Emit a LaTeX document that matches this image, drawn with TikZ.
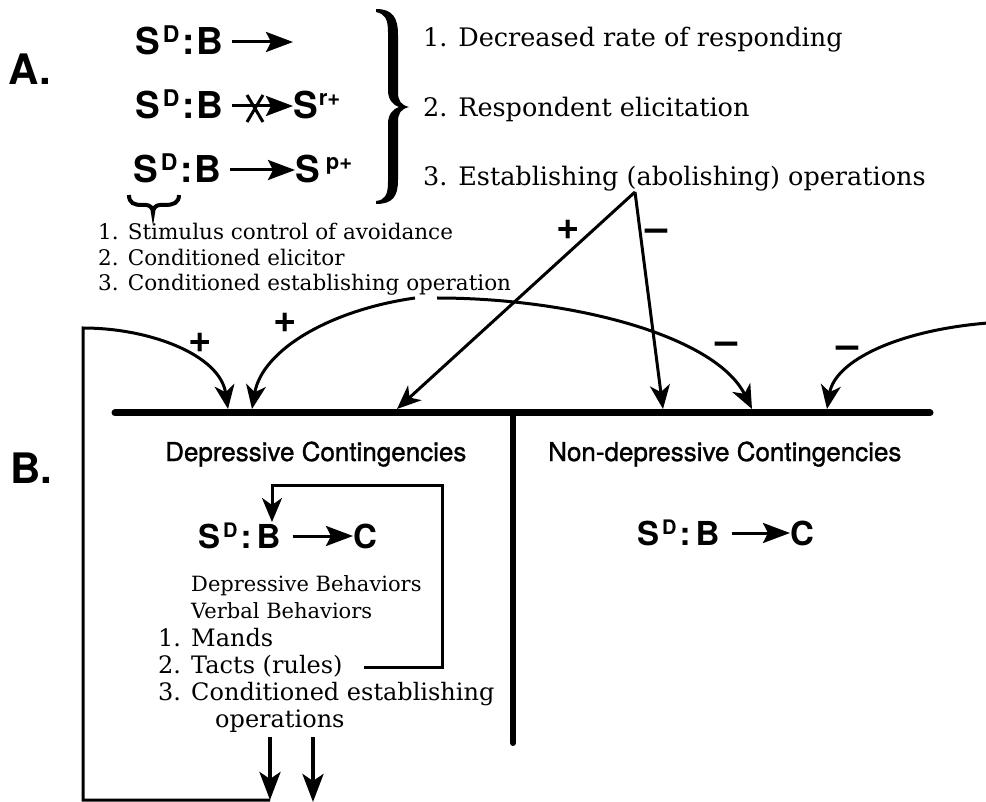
\documentclass[tikz,border=0pt]{standalone}
\usepackage{fontspec}
\setmainfont{DejaVu Serif}
\newfontfamily\hel{TeX Gyre Heros}
\newfontfamily\helsemi[FakeBold=1.2]{TeX Gyre Heros}
\usetikzlibrary{arrows.meta,calc}
\begin{document}
\begin{tikzpicture}[x=1pt,y=-1pt,
  big/.style={font=\hel\bfseries\fontsize{37}{37}\selectfont, inner sep=0pt, anchor=base west},
  mid/.style={font=\hel\bfseries\fontsize{33}{33}\selectfont, inner sep=0pt, anchor=base west},
  head/.style={font=\helsemi\fontsize{26}{26}\selectfont, inner sep=0pt, anchor=base west},
  letter/.style={font=\hel\bfseries\fontsize{42}{42}\selectfont, inner sep=0pt, anchor=base west},
  serA/.style={font=\fontsize{25.5}{25.5}\selectfont, inner sep=0pt, anchor=base west},
  serB/.style={font=\fontsize{21.5}{21.5}\selectfont, inner sep=0pt, anchor=base west},
  serC/.style={font=\fontsize{24}{24}\selectfont, inner sep=0pt, anchor=base west},
  serD/.style={font=\fontsize{21}{21}\selectfont, inner sep=0pt, anchor=base west},
  sign/.style={font=\hel\bfseries\fontsize{40}{40}\selectfont, inner sep=0pt},
  conn/.style={line width=3pt, -{Stealth[length=24pt,width=20pt,inset=7pt]}},
  bigconn/.style={line width=3pt, -{Stealth[length=27pt,width=20pt,inset=5pt]}},
  downconn/.style={line width=4pt, -{Stealth[length=28pt,width=21pt,inset=7pt]}},
  plain/.style={line width=3pt},
  bar/.style={line width=7pt, line cap=round},
]
\useasboundingbox (0,0) rectangle (986,802);

% ---------- Part A ----------
\node[letter] (LA) at (8,85) {A.};

\node[big] (a1) at (135,55) {S\kern3pt\raisebox{12pt}{\fontsize{23}{23}\selectfont D}\kern3pt:\kern2pt B};
\coordinate (a1e) at (293,42);
\draw[bigconn] ($(a1.base east)+(8,-13)$) -- (a1e);

\node[big] (a2) at (135,119) {S\kern3pt\raisebox{12pt}{\fontsize{23}{23}\selectfont D}\kern3pt:\kern2pt B};
\node[big] (a2s) at (293,119) {S\kern1pt\raisebox{13pt}{\fontsize{22}{22}\selectfont r+}};
\draw[bigconn] ($(a2.base east)+(8,-13)$) -- ($(a2s.base west)+(0,-13)$);
\draw[plain] (247,95) -- (263,122) (263,95) -- (247,122);

\node[big] (a3) at (133,183) {S\kern3pt\raisebox{12pt}{\fontsize{23}{23}\selectfont D}\kern3pt:\kern2pt B};
\node[big] (a3s) at (295,183) {S\kern6pt\raisebox{13pt}{\fontsize{22}{22}\selectfont p+}};
\draw[bigconn] ($(a3.base east)+(8,-13)$) -- ($(a3s.base west)+(0,-13)$);

% underbrace
\draw[line width=4pt] (129,195) .. controls (129,203) and (134,205) .. (142,205) -- (146,205)
  .. controls (150,205) and (153,208) .. (153,213)
  .. controls (153,208) and (156,205) .. (160,205) -- (165,205)
  .. controls (173,205) and (179,203) .. (179,195);

% big brace
\fill (376,9) .. controls (393,9) and (398,18) .. (398,35)
  -- (398,92) .. controls (398,101) and (401,105) .. (409,107)
  .. controls (401,109) and (398,113) .. (398,122)
  -- (398,180) .. controls (398,196) and (393,204) .. (376,204)
  -- (376,201) .. controls (385,200) and (388,195) .. (388,182)
  -- (388,124) .. controls (388,114) and (393,109) .. (399,107)
  .. controls (393,105) and (388,100) .. (388,90)
  -- (388,32) .. controls (388,19) and (385,14) .. (376,12) -- cycle;

\node[serA] (t1) at (423,47) {1. Decreased rate of responding};
\node[serA] (t2) at (423,117) {2. Respondent elicitation};
\node[serA] (t3) at (423,186) {3. Establishing (abolishing) operations};

\node[serB] (l1) at (98,240) {1. Stimulus control of avoidance};
\node[serB] (l2) at (98,266) {2. Conditioned elicitor};
\node[serB] (l3) at (98,291) {3. Conditioned establishing operation};

% ---------- connectors to part B ----------
\coordinate (apex) at (635,192);
\coordinate (tp1) at (397,409);
\coordinate (tm1) at (663,409);
\coordinate (tp2) at (228,409);
\coordinate (tp3) at (252,409);
\coordinate (tm2) at (752,409);
\coordinate (tm3) at (827,409);

\draw[conn] (apex) -- (tp1);
\draw[conn] (apex) -- (tm1);

\coordinate (c2s) at (415,298);
\draw[conn] (c2s) .. controls (330,310) and (262,350) .. (tp3);
\coordinate (c3s) at (437,298);
\draw[conn] (c3s) .. controls (570,298) and (715,335) .. (tm2);
\coordinate (c4s) at (988,323);
\draw[conn] (c4s) .. controls (900,330) and (835,360) .. (tm3);

\coordinate (d1) at (270,800);
\coordinate (lb) at (83,800);
\coordinate (lt) at (83,328);
\draw[conn] (d1) -- (lb) -- (lt) .. controls (150,328) and (220,355) .. (tp2);

\node[sign] (s1) at (568,230) {+};
\node[sign] (s2) at (657,235) {\textendash};
\node[sign] (s3) at (200,343) {+};
\node[sign] (s4) at (285,323) {+};
\node[sign] (s5) at (727,348) {\textendash};
\node[sign] (s6) at (848,352) {\textendash};

% ---------- Part B ----------
\coordinate (hl) at (115,413);
\coordinate (hr) at (930,413);
\draw[bar] (hl) -- (hr);
\coordinate (vt) at (513,413);
\coordinate (vb) at (513,743);
\draw[bar, line width=6pt] (vt) -- (vb);

\node[letter] (LB) at (10,483) {B.};

\node[head] (h1) at (165,461) {Depressive Contingencies};
\node[head] (h2) at (548,461) {Non-depressive Contingencies};

\node[mid] (b1) at (198,548) {S\kern3pt\raisebox{11pt}{\fontsize{20}{20}\selectfont D}\kern3pt:\kern5pt B};
\node[mid] (b1c) at (353,548) {C};
\draw[bigconn] ($(b1.base east)+(12,-12)$) -- ($(b1c.base west)+(0,-12)$);

\node[mid] (b2) at (637,545) {S\kern3pt\raisebox{11pt}{\fontsize{20}{20}\selectfont D}\kern3pt:\kern5pt B};
\node[mid] (b2c) at (790,545) {C};
\draw[bigconn] ($(b2.base east)+(12,-12)$) -- ($(b2c.base west)+(0,-12)$);

\node[serD] (m1) at (191,591) {Depressive Behaviors};
\node[serD] (m2) at (191,618) {Verbal Behaviors};
\node[serC] (m3) at (158,646) {1. Mands};
\node[serC] (m4) at (158,673) {2. Tacts (rules)};
\node[serC] (m5) at (158,700) {3. Conditioned establishing};
\node[serC] (m6) at (215,727) {operations};

\coordinate (fb0) at (364,667);
\coordinate (fb1) at (442,667);
\coordinate (fb2) at (442,485);
\coordinate (fb3) at (272,485);
\coordinate (fbt) at (272,522);
\draw[conn] (fb0) -- (fb1) -- (fb2) -- (fb3) -- (fbt);

\coordinate (da1) at (270,737);
\coordinate (da2) at (313,737);
\coordinate (d2) at (313,802);
\draw[downconn] (da1) -- (d1);
\draw[downconn] (da2) -- (d2);
\end{tikzpicture}
\end{document}
